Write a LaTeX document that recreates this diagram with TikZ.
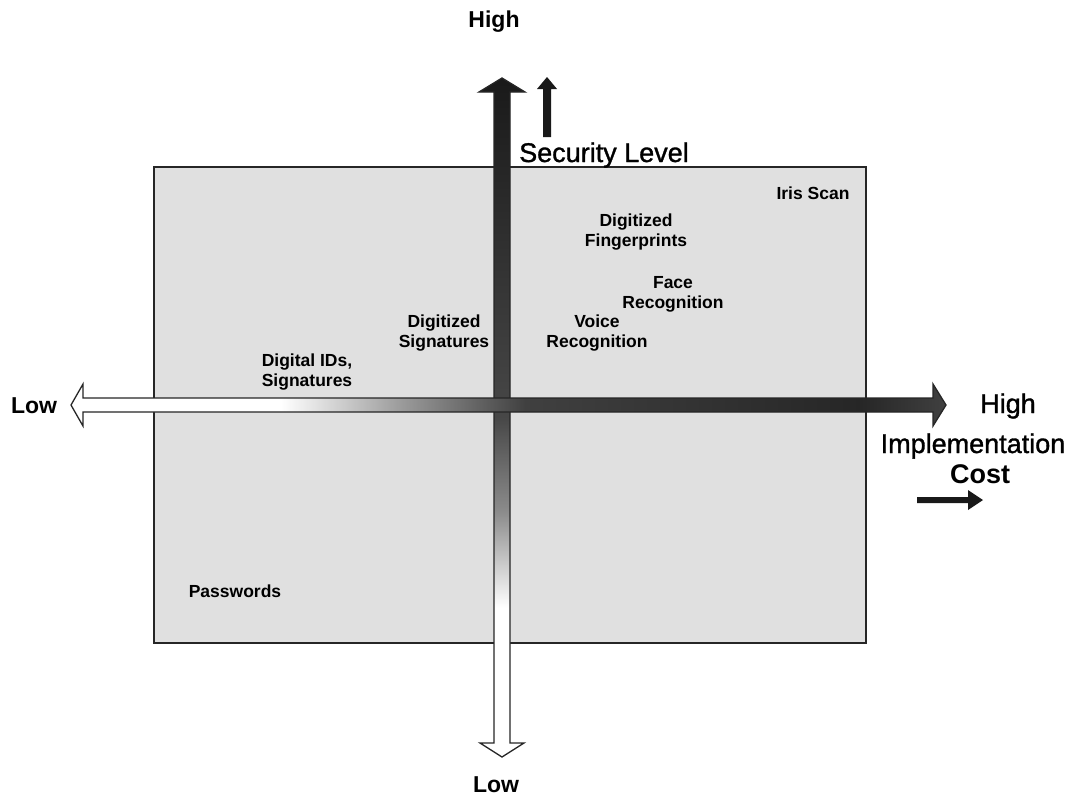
\documentclass[tikz,border=0pt]{standalone}
\usepackage{fontspec}
\setmainfont{Liberation Sans}
\newfontfamily\heavyreg[FakeBold=1.2]{Liberation Sans}

% cost axis: white on the low side, darkening towards the high side
\pgfdeclarehorizontalshading{costshade}{100bp}{color(0bp)=(white); color(37bp)=(white); color(44bp)=(black!40); color(51bp)=(black!75); color(70bp)=(black!85); color(75bp)=(black!75); color(100bp)=(black!75)}
% security axis: white at the bottom, darkening towards the top
\pgfdeclareverticalshading{levelshade}{100bp}{color(0bp)=(white); color(36bp)=(white); color(43bp)=(black!45); color(50bp)=(black!72); color(75bp)=(black!90); color(100bp)=(black!90)}

\definecolor{panel}{RGB}{224,224,224}

\tikzset{
  inlabel/.style={font=\fontsize{17.5}{20}\selectfont\bfseries, align=center, inner sep=0pt, text=black},
  axbold/.style={font=\fontsize{23}{26}\selectfont\bfseries, inner sep=0pt, anchor=base},
  axreg/.style={font=\fontsize{27}{30}\selectfont\heavyreg, inner sep=0pt, anchor=base},
  axarrow/.style={draw=black!85, line width=1.3pt, line join=miter},
}

\begin{document}
\begin{tikzpicture}[x=1pt,y=-1pt]
\useasboundingbox (0,0) rectangle (1071,796);

% quadrant panel
\draw[fill=panel, draw=black!85, line width=1.5pt] (154,167) rectangle (866,643);

% labels inside the panel
\node[inlabel] (iris)  at (813,193) {Iris Scan};
\node[inlabel] (fing)  at (636,232) {Digitized\\Fingerprints};
\node[inlabel] (face)  at (673,294) {Face\\Recognition};
\node[inlabel] (voice) at (597,333) {Voice\\Recognition};
\node[inlabel] (dsig)  at (444,333) {Digitized\\Signatures};
\node[inlabel, align=left] (dids) at (307,372) {Digital IDs,\\Signatures};
\node[inlabel] (pw)    at (235,591) {Passwords};

% vertical axis: security level
\path[shade, shading=levelshade, axarrow]
  (502,78) -- (525,92) -- (510,92) -- (510,743) -- (524,743) -- (502,757)
  -- (480,743) -- (494,743) -- (494,92) -- (479,92) -- cycle;

% horizontal axis: implementation cost
\path[shade, shading=costshade, axarrow]
  (71,405) -- (83,384) -- (83,398) -- (933,398) -- (933,384) -- (946,405)
  -- (933,426) -- (933,412) -- (83,412) -- (83,426) -- cycle;

% small direction arrows
\fill[black!90] (547,77) -- (557,89) -- (551,89) -- (551,137) -- (543,137) -- (543,89) -- (537,89) -- cycle;
\fill[black!90] (983,500) -- (968,490) -- (968,497) -- (917,497) -- (917,503) -- (968,503) -- (968,510) -- cycle;

% axis labels
\node[axbold] (hightop)   at (494,27)  {High};
\node[axbold] (lowbot)    at (496,792) {Low};
\node[axbold] (lowleft)   at (34,413)  {Low};
\node[axreg]  (security)  at (604,162) {Security Level};
\node[axreg]  (highright) at (1008,413) {High};
\node[axreg]  (impl)      at (973,453) {Implementation};
\node[axreg, font=\fontsize{27}{30}\selectfont\bfseries] (cost) at (980,483) {Cost};
\end{tikzpicture}
\end{document}
